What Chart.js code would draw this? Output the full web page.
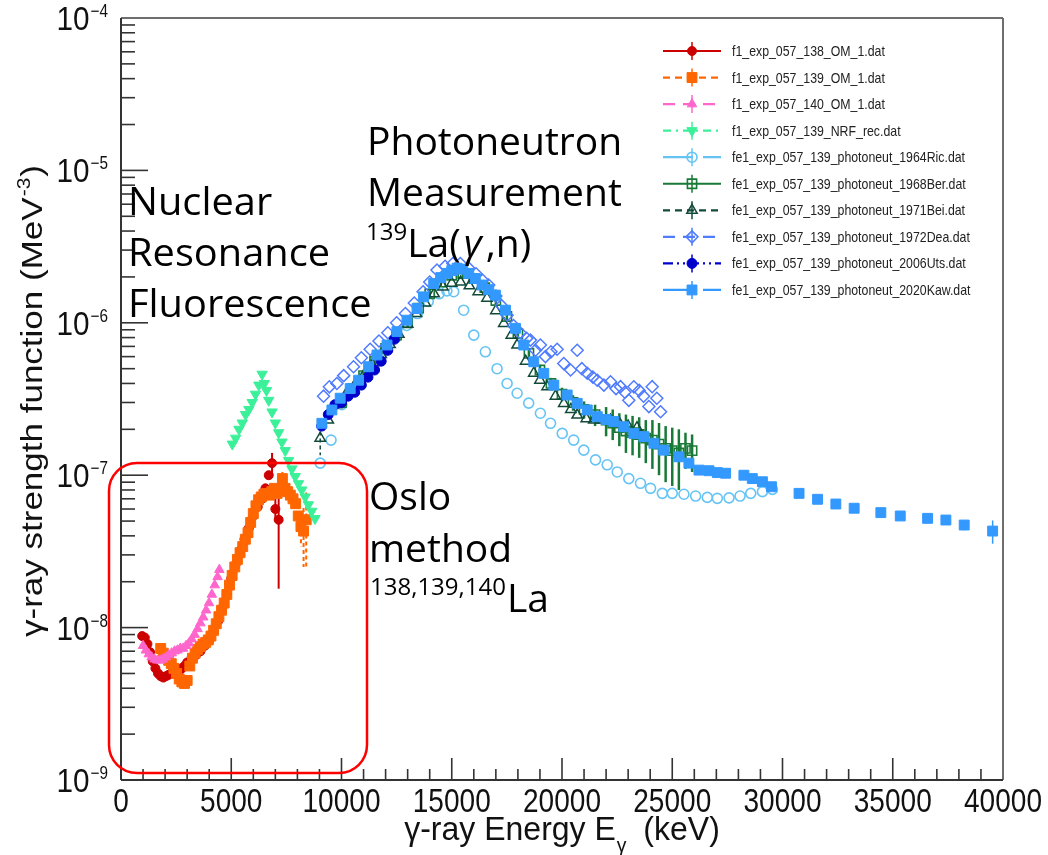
<!DOCTYPE html>
<html>
<head>
<meta charset="utf-8">
<script src="https://cdn.jsdelivr.net/npm/chart.js@4.4.1/dist/chart.umd.min.js"></script>
<style>
  html, body { margin: 0; padding: 0; background: #fff; }
  #wrap { width: 1048px; height: 855px; }
</style>
</head>
<body>
<div id="wrap"><canvas id="gsf" width="1048" height="855"></canvas></div>
<script>
// gamma-ray strength function of La isotopes, energies in keV, f in MeV^-3

var xTicks = [0, 5000, 10000, 15000, 20000, 25000, 30000, 35000, 40000];
var yDecades = [-9, -8, -7, -6, -5, -4];

var om138_x = [960,1080,1200,1320,1440,1560,1680,1800,1920,2040,2160,2280,2400,2520,2640,2760,2880,3000,3200,3400,3600,3800,4000,4200,4400,4600,4800,5000,5200,5400,5600,5800,6000,6200,6400,6550,6700,6850,7000,7150];
var om138_y = [8.8e-9,8.6e-9,7.8e-9,6.9e-9,6.0e-9,5.4e-9,5.0e-9,4.8e-9,4.7e-9,4.8e-9,4.9e-9,5.0e-9,5.2e-9,5.3e-9,5.2e-9,5.4e-9,5.6e-9,5.9e-9,6.3e-9,6.6e-9,7.0e-9,7.6e-9,8.2e-9,9.5e-9,1.1e-8,1.35e-8,1.65e-8,2.1e-8,2.6e-8,3.2e-8,3.8e-8,4.5e-8,5.4e-8,6.2e-8,7.0e-8,8.2e-8,1.0e-7,1.2e-7,6.0e-8,5.1e-8];
var om138_err = [0,0,0,0,0,0,0,0,0,0,0,0,0,0,0,0,0,0,0,0,0,0,0,0,0,0,0,0,0,0,0,0,0,0,0,0,0,2e-8,1e-8,3.3e-8];

var om139_x = [1800,1920,2040,2160,2280,2400,2520,2640,2760,2880,3000,3120,3240,3360,3480,3600,3720,3840,3960,4080,4200,4320,4440,4560,4680,4800,4920,5040,5160,5280,5400,5520,5640,5760,5880,6000,6120,6240,6360,6480,6600,6720,6840,6960,7080,7200,7320,7440,7560,7680,7800,7920,8040,8160,8280,8400];
var om139_y = [7.3e-9,6.8e-9,6.4e-9,6.1e-9,5.8e-9,5.4e-9,5.0e-9,4.6e-9,4.4e-9,4.3e-9,4.5e-9,5.6e-9,6.3e-9,6.8e-9,7.2e-9,7.5e-9,7.8e-9,8.0e-9,8.3e-9,8.8e-9,9.6e-9,1.06e-8,1.18e-8,1.3e-8,1.45e-8,1.65e-8,1.9e-8,2.2e-8,2.5e-8,2.8e-8,3.1e-8,3.4e-8,3.8e-8,4.2e-8,4.9e-8,5.6e-8,6.3e-8,6.9e-8,7.2e-8,7.5e-8,7.6e-8,7.4e-8,7.8e-8,8.2e-8,7.6e-8,8.0e-8,9.5e-8,8.2e-8,7.8e-8,7.4e-8,7.0e-8,6.5e-8,5.4e-8,4.6e-8,4.3e-8,5.1e-8];
var om139_err = [0,0,0,0,0,0,0,0,0,0,0,0,0,0,0,0,0,0,0,0,0,0,0,0,0,0,0,0,0,0,0,0,0,0,0,0,0,0,0,0,0,0,0,0,0,0,1e-8,0,0,0,0,0,1e-8,1.2e-8,1.8e-8,2.6e-8];

var om140_x = [1000,1130,1260,1390,1520,1650,1780,1910,2040,2170,2300,2430,2560,2690,2820,2950,3080,3210,3340,3470,3600,3730,3860,3990,4120,4250,4380,4460];
var om140_y = [7.6e-9,7.1e-9,6.7e-9,6.4e-9,6.2e-9,6.1e-9,6.1e-9,6.2e-9,6.4e-9,6.6e-9,6.8e-9,7.0e-9,7.1e-9,7.3e-9,7.3e-9,7.6e-9,7.9e-9,8.4e-9,9.0e-9,9.8e-9,1.07e-8,1.17e-8,1.3e-8,1.45e-8,1.65e-8,1.9e-8,2.15e-8,2.4e-8];

var nrf_x = [5050,5200,5350,5500,5650,5800,5950,6100,6250,6400,6500,6600,6700,6850,7000,7150,7300,7450,7600,7750,7900,8050,8200,8350,8500,8650,8800];
var nrf_y = [1.6e-7,1.75e-7,2.0e-7,2.2e-7,2.5e-7,2.7e-7,3.0e-7,3.4e-7,3.9e-7,4.6e-7,4.0e-7,3.6e-7,3.1e-7,2.6e-7,2.2e-7,1.9e-7,1.65e-7,1.45e-7,1.25e-7,1.1e-7,9.8e-8,8.8e-8,8.0e-8,7.2e-8,6.4e-8,5.8e-8,5.2e-8];

var ric_x = [9035,9525,10015,10505,10995,11485,11975,12465,12955,13445,13935,14425,14780,15090,15540,16000,16525,17055,17510,17965,18490,19020,19480,20010,20530,20990,21520,22050,22505,23030,23560,24015,24550,25000,25530,26060,26590,27045,27575,28075,28560,29090,29545];
var ric_y = [1.2e-7,1.7e-7,2.9e-7,3.6e-7,4.4e-7,5.5e-7,6.6e-7,8.0e-7,9.6e-7,1.15e-6,1.38e-6,1.55e-6,1.62e-6,1.6e-6,1.21e-6,8.3e-7,6.45e-7,5.0e-7,4.0e-7,3.45e-7,2.97e-7,2.55e-7,2.19e-7,1.88e-7,1.7e-7,1.46e-7,1.26e-7,1.17e-7,1.05e-7,9.5e-8,8.85e-8,8.2e-8,7.6e-8,7.6e-8,7.5e-8,7.3e-8,7.15e-8,7.05e-8,7.1e-8,7.3e-8,7.6e-8,7.8e-8,8.07e-8];

var ber_x = [10000,10500,11000,11500,12000,12500,13000,13500,14000,14500,15000,15500,16000,16500,17000,17500,18000,18500,19000,19500,20000,20500,21000,21500,22000,22300,22600,22900,23200,23500,23800,24100,24400,24700,25000,25300,25600,25900];
var ber_y = [3.0e-7,3.7e-7,4.5e-7,5.6e-7,6.8e-7,8.3e-7,1.0e-6,1.25e-6,1.55e-6,1.85e-6,2.05e-6,2.1e-6,1.95e-6,1.7e-6,1.4e-6,1.1e-6,8.5e-7,6.3e-7,4.9e-7,4.0e-7,3.4e-7,3.0e-7,2.7e-7,2.5e-7,2.3e-7,2.2e-7,2.05e-7,1.95e-7,1.9e-7,1.85e-7,1.75e-7,1.7e-7,1.6e-7,1.5e-7,1.45e-7,1.4e-7,1.5e-7,1.45e-7];
var ber_err = [2e-8,2.5e-8,3e-8,4e-8,5e-8,6e-8,7e-8,9e-8,1.1e-7,1.3e-7,1.4e-7,1.5e-7,1.4e-7,1.2e-7,1.0e-7,8e-8,6e-8,5e-8,4e-8,3.5e-8,3.5e-8,3.5e-8,3.5e-8,4e-8,5e-8,5e-8,5e-8,5.5e-8,5.5e-8,5.5e-8,5.5e-8,6e-8,6e-8,6e-8,6e-8,6e-8,4e-8,4e-8];

var bei_x = [9035,9400,9800,10200,10600,11000,11400,11800,12200,12600,13000,13400,13800,14200,14600,15000,15400,15800,16200,16600,17000,17360,17700,17965,18350,18720,19000,19325,19700,20080,20400,20690,21100,21440,21800,22200,22600,23000,23400];
var bei_y = [1.75e-7,2.3e-7,2.9e-7,3.4e-7,3.9e-7,4.5e-7,5.3e-7,6.2e-7,7.2e-7,8.4e-7,9.8e-7,1.15e-6,1.35e-6,1.55e-6,1.72e-6,1.82e-6,1.85e-6,1.75e-6,1.6e-6,1.45e-6,1.2e-6,9.9e-7,8.3e-7,7.15e-7,5.6e-7,4.67e-7,4.2e-7,3.81e-7,3.3e-7,2.96e-7,2.7e-7,2.48e-7,2.35e-7,2.3e-7,2.3e-7,2.3e-7,2.2e-7,2.1e-7,2.05e-7];
var bei_err = [4e-8,0,0,0,0,0,0,0,0,0,0,0,0,0,0,0,0,0,0,0,0,0,0,0,0,0,0,0,0,0,0,0,0,0,0,0,0,0,0];

var dea_x = [9185,9450,9790,10100,10545,10900,11300,11700,12100,12500,12900,13300,13700,14000,14330,14700,15050,15390,15750,16100,16400,16675,17000,17250,17510,17800,18100,18400,18570,18800,19020,19250,19500,19780,20080,20390,20690,20900,21145,21400,21600,21900,22200,22450,22655,22850,23030,23260,23500,23700,23940,24090,24300,24470];
var dea_y = [3.3e-7,3.8e-7,4.0e-7,4.5e-7,5.15e-7,5.9e-7,6.7e-7,7.6e-7,8.6e-7,1.0e-6,1.15e-6,1.35e-6,1.6e-6,1.85e-6,2.22e-6,2.35e-6,2.45e-6,2.45e-6,2.3e-6,2.1e-6,1.9e-6,1.77e-6,1.5e-6,1.3e-6,1.12e-6,9.6e-7,8.6e-7,7.9e-7,7.7e-7,6.6e-7,7.15e-7,6.0e-7,6.45e-7,6.7e-7,5.4e-7,4.9e-7,6.6e-7,5.0e-7,4.67e-7,4.4e-7,4.2e-7,3.9e-7,4.1e-7,3.7e-7,3.81e-7,3.5e-7,3.1e-7,3.8e-7,3.6e-7,3.3e-7,2.82e-7,3.81e-7,3.2e-7,2.61e-7];

var uts_x = [9100,9400,9700,10000,10300,10600,10900,11200,11500,11800,12100,12400];
var uts_y = [2.1e-7,2.5e-7,2.9e-7,3.0e-7,3.3e-7,3.5e-7,3.9e-7,4.4e-7,4.9e-7,5.6e-7,6.6e-7,7.8e-7];

var kaw_x = [9110,9565,9940,10395,10775,11230,11610,12065,12515,12970,13425,13720,14180,14500,14790,15000,15240,15500,15770,16070,16375,16680,16980,17435,17890,18265,18720,19175,19630,20235,20690,21145,21600,22000,22350,22805,23260,23715,24170,24615,25300,25755,26210,26665,27045,27420,28250,28630,29090,29500,30750,31590,32420,33250,34460,35340,36580,37410,38240,39530];
var kaw_y = [2.19e-7,2.68e-7,3.2e-7,3.7e-7,4.2e-7,5.15e-7,6.15e-7,7.15e-7,8.75e-7,1.04e-6,1.24e-6,1.48e-6,1.81e-6,1.98e-6,2.11e-6,2.2e-6,2.28e-6,2.25e-6,2.11e-6,1.95e-6,1.77e-6,1.65e-6,1.52e-6,1.21e-6,9.2e-7,7.15e-7,5.55e-7,4.66e-7,3.9e-7,3.36e-7,2.96e-7,2.68e-7,2.42e-7,2.32e-7,2.25e-7,2.08e-7,1.88e-7,1.79e-7,1.62e-7,1.46e-7,1.32e-7,1.2e-7,1.08e-7,1.07e-7,1.04e-7,1.03e-7,1.0e-7,9.5e-8,9.06e-8,8.4e-8,7.6e-8,6.95e-8,6.47e-8,6.07e-8,5.68e-8,5.4e-8,5.21e-8,5.08e-8,4.71e-8,4.3e-8];
var kaw_err = [0,0,0,0,0,0,0,0,0,0,0,0,0,0,0,0,0,0,0,0,0,0,0,0,0,0,0,0,0,0,0,0,0,0,0,0,0,0,0,0,0,0,0,0,0,0,0,0,0,0,0,0,0,0,0,0,0,0,3.5e-9,7.5e-9];

var AXFONT = '"Liberation Sans", Arial, sans-serif';
var NOTEFONT = '"Open Sans", "Noto Sans", sans-serif';

function series(label, xs, ys, errs, st) {
    var pts = xs.map(function (x, i) { return {x: x, y: ys[i]}; });
    return {
        label: label,
        data: pts,
        errors: errs,
        showLine: false,
        borderColor: st.color,
        backgroundColor: st.fill,
        pointBackgroundColor: st.fill,
        pointBorderColor: st.color,
        pointBorderWidth: st.bw,
        pointStyle: st.shape,
        pointRadius: st.r,
        pointRotation: st.rot || 0,
        dash: st.dash,
        errDash: st.errDash || [],
        errWidth: st.errWidth || 1.5
    };
}

var none = 'rgba(0,0,0,0)';
var datasets = [
    series('f1_exp_057_138_OM_1.dat', om138_x, om138_y, om138_err, {color: '#cc0000', fill: '#cc0000', shape: 'circle', r: 4.5, bw: 1, dash: [], errWidth: 2}),
    series('f1_exp_057_139_OM_1.dat', om139_x, om139_y, om139_err, {color: '#ff6600', fill: '#ff6600', shape: 'rect', r: 7, bw: 1, dash: [7, 5], errDash: [4, 3], errWidth: 2}),
    series('f1_exp_057_140_OM_1.dat', om140_x, om140_y, null, {color: '#ff66cc', fill: '#ff66cc', shape: 'triangle', r: 5.5, bw: 1, dash: [12, 8]}),
    series('f1_exp_057_139_NRF_rec.dat', nrf_x, nrf_y, null, {color: '#3cf09a', fill: '#3cf09a', shape: 'triangle', rot: 180, r: 6, bw: 1, dash: [8, 5, 2, 5]}),
    series('fe1_exp_057_139_photoneut_1964Ric.dat', ric_x, ric_y, null, {color: '#66c4f5', fill: none, shape: 'circle', r: 5, bw: 1.6, dash: [30, 10]}),
    series('fe1_exp_057_139_photoneut_1968Ber.dat', ber_x, ber_y, ber_err, {color: '#187a36', fill: none, shape: 'rect', r: 6.5, bw: 1.6, dash: [], errWidth: 2.5}),
    series('fe1_exp_057_139_photoneut_1971Bei.dat', bei_x, bei_y, bei_err, {color: '#124a3a', fill: none, shape: 'triangle', r: 6, bw: 1.5, dash: [7, 5], errDash: [4, 3]}),
    series('fe1_exp_057_139_photoneut_1972Dea.dat', dea_x, dea_y, null, {color: '#4f7bff', fill: none, shape: 'rectRot', r: 6, bw: 1.5, dash: [12, 8]}),
    series('fe1_exp_057_139_photoneut_2006Uts.dat', uts_x, uts_y, null, {color: '#0000cc', fill: '#0000cc', shape: 'circle', r: 5, bw: 1, dash: [10, 4, 2, 4, 2, 4]}),
    series('fe1_exp_057_139_photoneut_2020Kaw.dat', kaw_x, kaw_y, kaw_err, {color: '#3399ff', fill: '#3399ff', shape: 'rect', r: 7, bw: 1, dash: [30, 10]})
];
// later files are painted on top of earlier ones
datasets.forEach(function (d, i) { d.order = datasets.length - i; });

function fontOf(size, family, style) {
    return (style ? style + ' ' : '') + size + 'px ' + (family || AXFONT);
}

function sqText(ctx, s, x, y, size, sx, align, family, style) {
    ctx.save();
    ctx.translate(x, y);
    ctx.scale(sx, 1);
    ctx.font = fontOf(size, family, style);
    ctx.textAlign = align || 'left';
    ctx.textBaseline = 'alphabetic';
    ctx.fillText(s, 0, 0);
    ctx.restore();
}

function textWidth(ctx, s, size, sx, family, style) {
    ctx.save();
    ctx.font = fontOf(size, family, style);
    var w = ctx.measureText(s).width * sx;
    ctx.restore();
    return w;
}

function marker(ctx, ds, x, y) {
    ctx.save();
    ctx.fillStyle = ds.pointBackgroundColor;
    ctx.strokeStyle = ds.pointBorderColor;
    ctx.lineWidth = ds.pointBorderWidth;
    Chart.helpers.drawPoint(ctx, {pointStyle: ds.pointStyle, rotation: ds.pointRotation, radius: ds.pointRadius, borderWidth: ds.pointBorderWidth}, x, y);
    ctx.restore();
}

function drawErrors(chart, i) {
    var ds = chart.data.datasets[i];
    if (!ds.errors) return;
    var ctx = chart.ctx, a = chart.chartArea;
    var xs = chart.scales.x, ys = chart.scales.y;
    ctx.save();
    ctx.beginPath();
    ctx.rect(a.left, a.top, a.right - a.left, a.bottom - a.top);
    ctx.clip();
    ctx.strokeStyle = ds.borderColor;
    ctx.lineWidth = ds.errWidth;
    ctx.setLineDash(ds.errDash);
    ds.data.forEach(function (p, k) {
        var e = ds.errors[k];
        if (!e) return;
        var px = xs.getPixelForValue(p.x);
        ctx.beginPath();
        ctx.moveTo(px, ys.getPixelForValue(p.y + e));
        ctx.lineTo(px, ys.getPixelForValue(Math.max(p.y - e, 1e-12)));
        ctx.stroke();
    });
    ctx.restore();
}

function line(ctx, x1, y1, x2, y2) {
    ctx.beginPath();
    ctx.moveTo(x1, y1);
    ctx.lineTo(x2, y2);
    ctx.stroke();
}

function drawFrame(chart) {
    var ctx = chart.ctx, a = chart.chartArea;
    var xs = chart.scales.x, ys = chart.scales.y;
    ctx.save();
    ctx.strokeStyle = '#333';
    ctx.lineWidth = 1.6;
    // log ticks on the left edge
    for (var d = -9; d < -4; d++) {
        for (var m = 1; m < 10; m++) {
            var py = ys.getPixelForValue(m * Math.pow(10, d));
            line(ctx, a.left, py, a.left + (m === 1 ? 27 : 14), py);
        }
    }
    // linear ticks on the bottom edge
    for (var k = 0; k <= 40000; k += 1000) {
        var px = xs.getPixelForValue(k);
        line(ctx, px, a.bottom, px, a.bottom - (k % 5000 === 0 ? 22 : 11));
    }
    ctx.lineWidth = 2;
    ctx.strokeStyle = '#6e6e6e';
    line(ctx, a.left, a.top, a.right, a.top);
    line(ctx, a.right, a.top, a.right, a.bottom);
    ctx.strokeStyle = '#333';
    line(ctx, a.left, a.top, a.left, a.bottom);
    line(ctx, a.left, a.bottom, a.right, a.bottom);
    ctx.restore();
}

function drawAxisText(chart) {
    var ctx = chart.ctx, a = chart.chartArea;
    var xs = chart.scales.x, ys = chart.scales.y;
    ctx.save();
    ctx.fillStyle = '#111';
    yDecades.forEach(function (d) {
        var py = ys.getPixelForValue(Math.pow(10, d));
        var ex = '\u2212' + (-d);
        var ew = textWidth(ctx, ex, 18, 0.85);
        sqText(ctx, ex, 108, py - 1, 18, 0.85, 'right');
        sqText(ctx, '10', 108 - ew - 1, py + 12, 33, 0.9, 'right');
    });
    xTicks.forEach(function (v) {
        sqText(ctx, String(v), xs.getPixelForValue(v), 812, 33, 0.85, 'center');
    });

    // x title with subscript gamma
    var t1 = '\u03b3-ray Energy E', t2 = '\u03b3', t3 = '  (keV)';
    var fs = 33, sx = 0.97;
    var w1 = textWidth(ctx, t1, fs, sx), w2 = textWidth(ctx, t2, 20, sx), w3 = textWidth(ctx, t3, fs, sx);
    var x0 = (a.left + a.right) / 2 - (w1 + w2 + w3) / 2;
    sqText(ctx, t1, x0, 840, fs, sx);
    sqText(ctx, t2, x0 + w1 + 1, 852, 20, sx);
    sqText(ctx, t3, x0 + w1 + w2, 840, fs, sx);

    // y title, rotated, with MeV^-3
    var s1 = '\u03b3-ray strength function (MeV', s2 = '-3', s3 = ')';
    var yf = 35;
    ctx.save();
    ctx.translate(42, 402);
    ctx.rotate(-Math.PI / 2);
    ctx.scale(1, 0.86);
    ctx.textBaseline = 'alphabetic';
    ctx.font = fontOf(yf);
    var u1 = ctx.measureText(s1).width, u3 = ctx.measureText(s3).width;
    ctx.font = fontOf(21);
    var u2 = ctx.measureText(s2).width;
    var start = -(u1 + u2 + u3) / 2;
    ctx.font = fontOf(yf);
    ctx.fillText(s1, start, 0);
    ctx.fillText(s3, start + u1 + u2 + 2, 0);
    ctx.font = fontOf(21);
    ctx.fillText(s2, start + u1 + 1, -14);
    ctx.restore();
    ctx.restore();
}

function drawNotes(chart) {
    var ctx = chart.ctx;
    ctx.save();
    ctx.fillStyle = '#000';
    var big = 39, small = 24;
    sqText(ctx, 'Nuclear', 128, 215, big, 1.02, 'left', NOTEFONT);
    sqText(ctx, 'Resonance', 128, 266, big, 1.02, 'left', NOTEFONT);
    sqText(ctx, 'Fluorescence', 128, 317, big, 1.02, 'left', NOTEFONT);

    sqText(ctx, 'Photoneutron', 367, 155, big, 1, 'left', NOTEFONT);
    sqText(ctx, 'Measurement', 367, 206, big, 1, 'left', NOTEFONT);
    var xa = 366;
    sqText(ctx, '139', xa, 240, small, 1, 'left', NOTEFONT);
    xa += textWidth(ctx, '139', small, 1, NOTEFONT);
    sqText(ctx, 'La(', xa, 257, big, 1, 'left', NOTEFONT);
    xa += textWidth(ctx, 'La(', big, 1, NOTEFONT);
    sqText(ctx, '\u03b3', xa + 3, 257, big, 1, 'left', NOTEFONT, 'italic');
    xa += textWidth(ctx, '\u03b3', big, 1, NOTEFONT, 'italic') + 7;
    sqText(ctx, ',n)', xa, 257, big, 1, 'left', NOTEFONT);

    sqText(ctx, 'Oslo', 369, 510, big, 1, 'left', NOTEFONT);
    sqText(ctx, 'method', 369, 562, big, 1, 'left', NOTEFONT);
    var w2 = textWidth(ctx, '138,139,140', small, 1, NOTEFONT);
    sqText(ctx, '138,139,140', 370, 595, small, 1, 'left', NOTEFONT);
    sqText(ctx, 'La', 371 + w2, 612, big, 1, 'left', NOTEFONT);

    // box around the Oslo-method region
    ctx.strokeStyle = '#ff0000';
    ctx.lineWidth = 2.5;
    ctx.beginPath();
    ctx.roundRect(109, 463, 258, 310, 28);
    ctx.stroke();
    ctx.restore();
}

function drawKey(chart) {
    var ctx = chart.ctx;
    var y0 = 51, step = 26.55, lx1 = 663, lx2 = 721, mx = 692, tx = 732;
    chart.data.datasets.forEach(function (ds, i) {
        var y = y0 + i * step;
        ctx.save();
        ctx.strokeStyle = ds.borderColor;
        ctx.lineWidth = 2.2;
        ctx.setLineDash(ds.dash);
        line(ctx, lx1, y, lx2, y);
        ctx.setLineDash([]);
        ctx.lineWidth = 1.5;
        line(ctx, mx, y - 9, mx, y + 9);
        ctx.restore();
        marker(ctx, ds, mx, y);
        ctx.fillStyle = '#222';
        sqText(ctx, ds.label, tx, y + 5, 14.5, 0.85, 'left');
    });
}

var rootStyle = {
    id: 'rootStyle',
    beforeDatasetDraw: function (chart, args) { drawErrors(chart, args.index); },
    afterDraw: function (chart) {
        drawFrame(chart);
        drawAxisText(chart);
        drawKey(chart);
        drawNotes(chart);
    }
};

new Chart(document.getElementById('gsf').getContext('2d'), {
    type: 'scatter',
    data: {datasets: datasets},
    options: {
        responsive: false,
        animation: false,
        events: [],
        layout: {padding: {left: 121, right: 45, top: 18, bottom: 75}},
        scales: {
            x: {type: 'linear', min: 0, max: 40000, display: false},
            y: {type: 'logarithmic', min: 1e-9, max: 1e-4, display: false}
        },
        plugins: {legend: {display: false}, tooltip: {enabled: false}}
    },
    plugins: [rootStyle]
});
</script>
</body>
</html>
